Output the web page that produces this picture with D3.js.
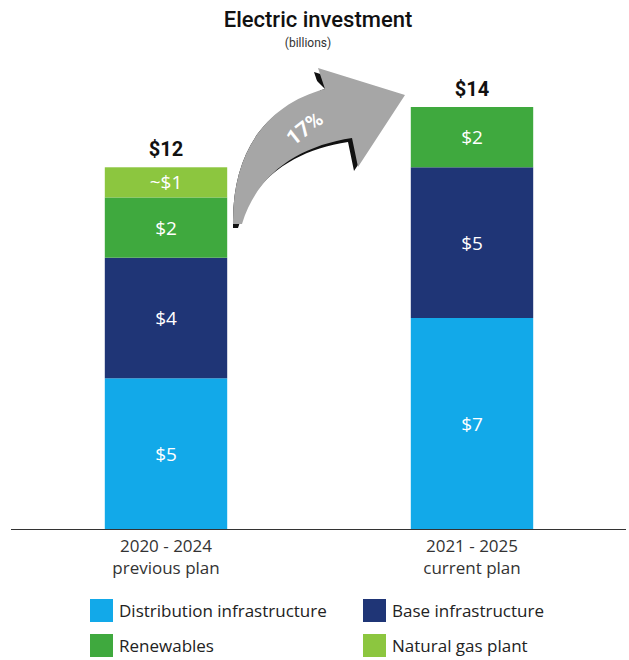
<!DOCTYPE html>
<html>
<head>
<meta charset="utf-8">
<script src="https://cdn.jsdelivr.net/npm/d3@7"></script>
<style>
  body { margin: 0; background: #fff; }
  text { font-family: "Open Sans", "Liberation Sans", sans-serif; }
</style>
</head>
<body>
<div id="chart"></div>
<script>
// data
const plans = ['2020 - 2024', '2021 - 2025'];
const planNotes = ['previous plan', 'current plan'];
const totals = ['$12', '$14'];
const seriesNames = ['Distribution infrastructure', 'Base infrastructure', 'Renewables', 'Natural gas plant'];
const distribution = [5, 7];
const baseInfra = [4, 5];
const renewables = [2, 2];
const naturalGas = [1, 0];
const segLabels = [['$5', '$4', '$2', '~$1'], ['$7', '$5', '$2', '']];
const growthLabel = '17%';

const colors = ['#12a9e9', '#1f3576', '#3fa93e', '#8cc63f'];

const width = 629, height = 660;

const svg = d3.select('#chart')
    .append('svg')
    .attr('width', width)
    .attr('height', height);

const rows = plans.map((p, i) => ({
    plan: p,
    values: [distribution[i], baseInfra[i], renewables[i], naturalGas[i]]
}));

const stack = d3.stack()
    .keys([0, 1, 2, 3])
    .value((d, k) => d.values[k]);
const stacked = stack(rows);

const xScale = d3.scaleBand()
    .domain(plans)
    .range([13, 625])
    .paddingInner(0.6)
    .paddingOuter(0.3);

const yScale = d3.scaleLinear()
    .domain([0, 14])
    .range([529, 107]);

// title
svg.append('text')
    .attr('x', 318).attr('y', 27)
    .attr('text-anchor', 'middle')
    .style('font-family', 'Roboto, sans-serif')
    .style('font-weight', 500)
    .style('font-size', '22px')
    .attr('fill', '#111')
    .text('Electric investment');
svg.append('text')
    .attr('x', 308).attr('y', 47)
    .attr('text-anchor', 'middle')
    .style('font-family', 'Roboto, sans-serif')
    .style('font-size', '12px')
    .attr('fill', '#333')
    .text('(billions)');

// bars
const layers = svg.append('g').attr('id', 'bars')
    .selectAll('g')
    .data(stacked)
    .enter().append('g')
    .attr('fill', (d, i) => colors[i]);

layers.selectAll('rect')
    .data(d => d.map(s => ({ s: s, key: d.key })))
    .enter().append('rect')
    .attr('x', d => xScale(d.s.data.plan))
    .attr('width', xScale.bandwidth())
    .attr('y', d => yScale(d.s[1]))
    .attr('height', d => yScale(d.s[0]) - yScale(d.s[1]));

// segment labels
layers.selectAll('text')
    .data(d => d.map((s, i) => ({ s: s, key: d.key, i: i })))
    .enter().append('text')
    .attr('x', d => xScale(d.s.data.plan) + xScale.bandwidth() / 2)
    .attr('y', d => (yScale(d.s[0]) + yScale(d.s[1])) / 2 + 7)
    .attr('text-anchor', 'middle')
    .attr('fill', '#fff')
    .style('font-size', '19px')
    .text(d => segLabels[d.i][d.key]);

// totals
svg.append('g').selectAll('text')
    .data(rows)
    .enter().append('text')
    .attr('x', d => xScale(d.plan) + xScale.bandwidth() / 2)
    .attr('y', d => yScale(d3.sum(d.values)) - 11)
    .attr('text-anchor', 'middle')
    .style('font-family', 'Roboto, sans-serif')
    .style('font-weight', 700)
    .style('font-size', '20px')
    .attr('fill', '#111')
    .text((d, i) => totals[i]);

// baseline
svg.append('line')
    .attr('x1', 11).attr('x2', 626)
    .attr('y1', yScale(0) + 0.5).attr('y2', yScale(0) + 0.5)
    .attr('stroke', '#333')
    .attr('stroke-width', 1.2);

// x labels
const xl = svg.append('g').selectAll('text')
    .data(plans)
    .enter().append('text')
    .attr('x', d => xScale(d) + xScale.bandwidth() / 2)
    .attr('text-anchor', 'middle')
    .attr('fill', '#333')
    .style('font-size', '17px');
xl.append('tspan').attr('x', d => xScale(d) + xScale.bandwidth() / 2).attr('y', 552).text(d => d);
xl.append('tspan').attr('x', d => xScale(d) + xScale.bandwidth() / 2).attr('y', 574).text((d, i) => planNotes[i]);

// growth arrow
const arrowPath = d3.path();
arrowPath.moveTo(233, 224);
arrowPath.bezierCurveTo(232, 150, 268, 104, 325, 89);
arrowPath.lineTo(318, 68);
arrowPath.lineTo(405, 95);
arrowPath.lineTo(358, 167);
arrowPath.lineTo(352, 138);
arrowPath.bezierCurveTo(300, 146, 258, 172, 242, 224);
arrowPath.closePath();

// keep the dark side only under the arrow, not on its outer edge
const clipPath = d3.path();
clipPath.moveTo(233, 260);
clipPath.lineTo(233, 224);
clipPath.bezierCurveTo(232, 150, 268, 104, 325, 89);
clipPath.lineTo(300, 64);
clipPath.lineTo(300, 0);
clipPath.lineTo(640, 0);
clipPath.lineTo(640, 260);
clipPath.closePath();

svg.append('defs').append('clipPath')
    .attr('id', 'shadowClip')
    .append('path')
    .attr('d', clipPath.toString());

const arrowG = svg.append('g').attr('id', 'arrow');
arrowG.append('g')
    .attr('clip-path', 'url(#shadowClip)')
    .append('path')
    .attr('d', arrowPath.toString())
    .attr('transform', 'translate(-4,4)')
    .attr('fill', '#111');
arrowG.append('path')
    .attr('d', arrowPath.toString())
    .attr('fill', '#a6a6a6');
arrowG.append('text')
    .attr('transform', 'translate(309,134) rotate(-38)')
    .attr('text-anchor', 'middle')
    .attr('fill', '#fff')
    .style('font-family', 'Roboto, sans-serif')
    .style('font-weight', 700)
    .style('font-size', '21px')
    .text(growthLabel);

// legend
const legendPos = [[90, 599], [363, 599], [90, 634], [363, 634]];
const legend = svg.append('g').selectAll('g')
    .data(seriesNames)
    .enter().append('g')
    .attr('transform', (d, i) => `translate(${legendPos[i][0]},${legendPos[i][1]})`);
legend.append('rect')
    .attr('width', 23).attr('height', 23)
    .attr('fill', (d, i) => colors[i]);
legend.append('text')
    .attr('x', 29).attr('y', 18)
    .attr('fill', '#222')
    .style('font-size', '17px')
    .text(d => d);
</script>
</body>
</html>
